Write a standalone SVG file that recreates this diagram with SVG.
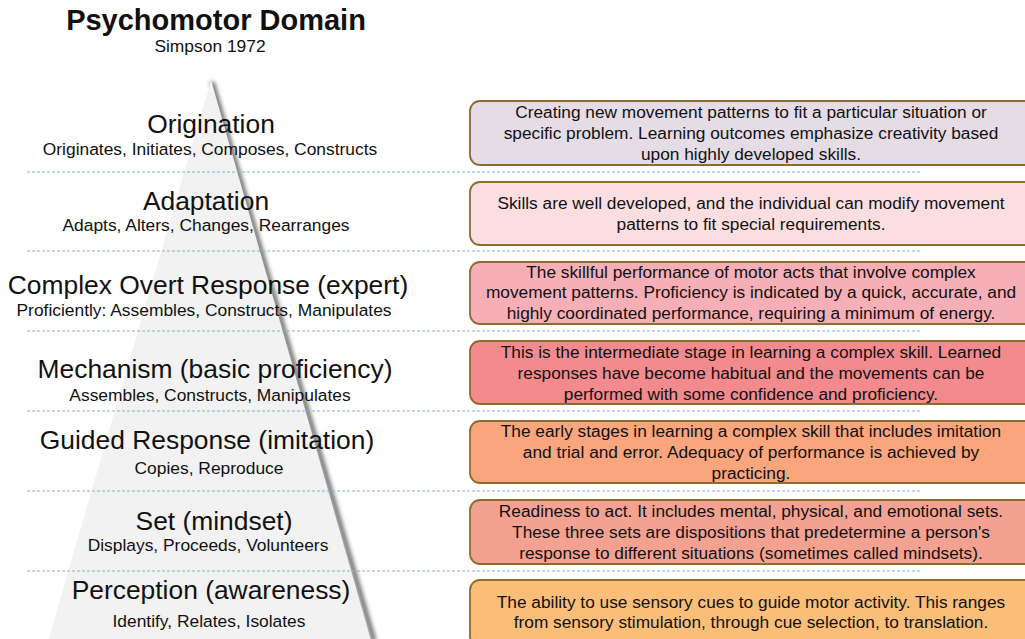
<svg xmlns="http://www.w3.org/2000/svg" width="1025" height="639" viewBox="0 0 1025 639">
<defs>
<style>
.t{font-family:"Liberation Sans",Arial,sans-serif;fill:#111;text-anchor:middle}
.h{font-size:26.4px}
.s{font-size:17.4px}
.b{font-size:17.3px}
.box{stroke:#8c6d2c;stroke-width:1.8}
.dash{stroke:#8eaadb;stroke-width:1;stroke-dasharray:3 2;fill:none}
</style>
<filter id="sh" x="-20%" y="-5%" width="140%" height="110%">
<feGaussianBlur stdDeviation="2.2"/>
</filter>
</defs>
<rect width="1025" height="639" fill="#fff"/>
<g id="pyramid">
<path d="M212,82 L374,641" stroke="#444" stroke-width="4.5" fill="none" filter="url(#sh)" opacity="0.85"/>
<path d="M211,80 L48,641 L371,641 Z" fill="#f2f2f2"/>
</g>
<g id="title">
<text class="t" x="216" y="30" style="font-size:29px;font-weight:bold">Psychomotor Domain</text>
<text class="t s" x="210" y="52">Simpson 1972</text>
</g>
<g id="connectors">
<line class="dash" x1="27" y1="172" x2="921" y2="172"/>
<line class="dash" x1="27" y1="251" x2="921" y2="251"/>
<line class="dash" x1="27" y1="331" x2="921" y2="331"/>
<line class="dash" x1="27" y1="411" x2="921" y2="411"/>
<line class="dash" x1="27" y1="491" x2="921" y2="491"/>
<line class="dash" x1="27" y1="571" x2="921" y2="571"/>
</g>
<g id="origination">
<text class="t h" x="211" y="133">Origination</text>
<text class="t s" x="210" y="155">Originates, Initiates, Composes, Constructs</text>
<rect class="box" x="470" y="101" width="570" height="64" rx="10" fill="#e5dce6"/>
<text class="t b" x="751" y="118">Creating new movement patterns to fit a particular situation or</text>
<text class="t b" x="751" y="139">specific problem. Learning outcomes emphasize creativity based</text>
<text class="t b" x="751" y="160">upon highly developed skills.</text>
</g>
<g id="adaptation">
<text class="t h" x="206" y="210">Adaptation</text>
<text class="t s" x="206" y="231">Adapts, Alters, Changes, Rearranges</text>
<rect class="box" x="470" y="182" width="570" height="63" rx="10" fill="#fbdfe0"/>
<text class="t b" x="751" y="209">Skills are well developed, and the individual can modify movement</text>
<text class="t b" x="751" y="230">patterns to fit special requirements.</text>
</g>
<g id="complex">
<text class="t h" x="208" y="294">Complex Overt Response (expert)</text>
<text class="t s" x="204" y="316">Proficiently: Assembles, Constructs, Manipulates</text>
<rect class="box" x="470" y="262" width="570" height="62" rx="10" fill="#f6afb7"/>
<text class="t b" x="751" y="278">The skillful performance of motor acts that involve complex</text>
<text class="t b" x="751" y="298">movement patterns. Proficiency is indicated by a quick, accurate, and</text>
<text class="t b" x="751" y="319">highly coordinated performance, requiring a minimum of energy.</text>
</g>
<g id="mechanism">
<text class="t h" x="215" y="378">Mechanism (basic proficiency)</text>
<text class="t s" x="210" y="401">Assembles, Constructs, Manipulates</text>
<rect class="box" x="470" y="341" width="570" height="63" rx="10" fill="#f38b8e"/>
<text class="t b" x="751" y="358">This is the intermediate stage in learning a complex skill. Learned</text>
<text class="t b" x="751" y="379">responses have become habitual and the movements can be</text>
<text class="t b" x="751" y="400">performed with some confidence and proficiency.</text>
</g>
<g id="guided">
<text class="t h" x="207" y="449">Guided Response (imitation)</text>
<text class="t s" x="209" y="474">Copies, Reproduce</text>
<rect class="box" x="470" y="421" width="570" height="62" rx="10" fill="#f9a57e"/>
<text class="t b" x="751" y="437">The early stages in learning a complex skill that includes imitation</text>
<text class="t b" x="751" y="458">and trial and error. Adequacy of performance is achieved by</text>
<text class="t b" x="751" y="479">practicing.</text>
</g>
<g id="set">
<text class="t h" x="214" y="530">Set (mindset)</text>
<text class="t s" x="208" y="551">Displays, Proceeds, Volunteers</text>
<rect class="box" x="470" y="500" width="570" height="64" rx="10" fill="#f3a292"/>
<text class="t b" x="751" y="517">Readiness to act. It includes mental, physical, and emotional sets.</text>
<text class="t b" x="751" y="538">These three sets are dispositions that predetermine a person's</text>
<text class="t b" x="751" y="559">response to different situations (sometimes called mindsets).</text>
</g>
<g id="perception">
<text class="t h" x="211" y="599">Perception (awareness)</text>
<text class="t s" x="209" y="627">Identify, Relates, Isolates</text>
<rect class="box" x="470" y="580" width="570" height="66" rx="10" fill="#fbbe78"/>
<text class="t b" x="751" y="608">The ability to use sensory cues to guide motor activity.  This ranges</text>
<text class="t b" x="751" y="628">from sensory stimulation, through cue selection, to translation.</text>
</g>
</svg>
